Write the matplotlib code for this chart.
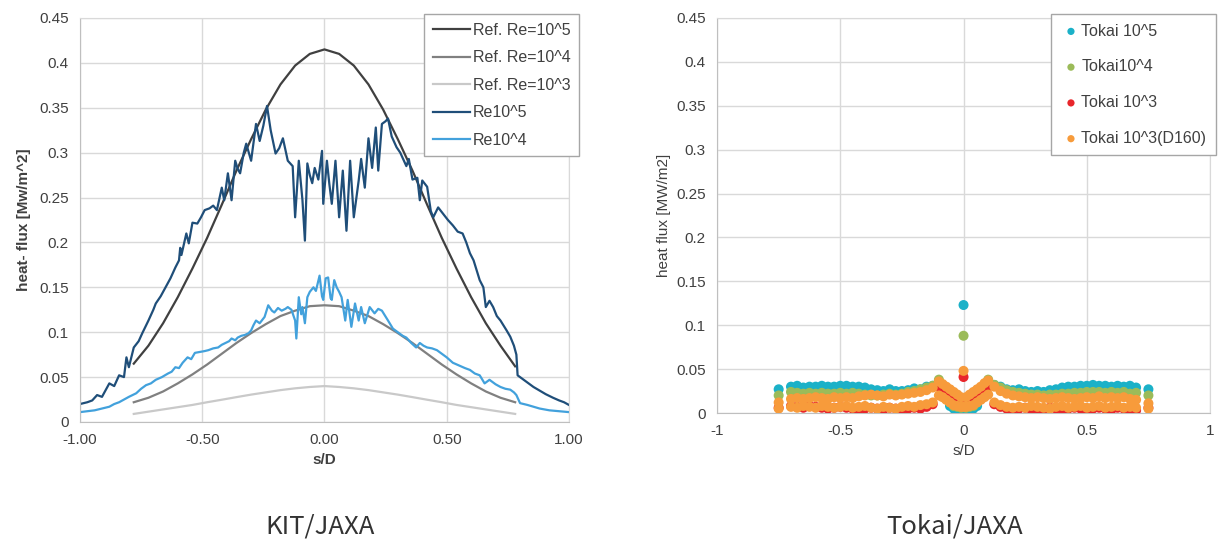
import matplotlib
matplotlib.use('Agg')
import matplotlib.pyplot as plt

plt.rcParams['font.family'] = ['Liberation Sans', 'DejaVu Sans']

# ---- KIT/JAXA data ----
ref_x = [-0.78, -0.72, -0.66, -0.60, -0.54, -0.48, -0.42, -0.36, -0.30, -0.24, -0.18, -0.12, -0.06, 0.0,
         0.06, 0.12, 0.18, 0.24, 0.30, 0.36, 0.42, 0.48, 0.54, 0.60, 0.66, 0.72, 0.78]
ref_re1e5 = [0.065, 0.085, 0.110, 0.139, 0.171, 0.205, 0.242, 0.280, 0.315, 0.348, 0.376, 0.397, 0.410, 0.415,
             0.410, 0.397, 0.376, 0.348, 0.315, 0.280, 0.242, 0.205, 0.171, 0.139, 0.110, 0.085, 0.062]
ref_re1e4 = [0.022, 0.027, 0.034, 0.043, 0.053, 0.064, 0.076, 0.088, 0.099, 0.109, 0.118, 0.124, 0.129, 0.130,
             0.129, 0.124, 0.118, 0.109, 0.099, 0.088, 0.076, 0.064, 0.053, 0.043, 0.034, 0.027, 0.022]
ref_re1e3 = [0.009, 0.0115, 0.014, 0.0165, 0.019, 0.022, 0.0248, 0.0277, 0.0305, 0.033, 0.0355, 0.0375, 0.039, 0.040,
             0.039, 0.0375, 0.0355, 0.033, 0.0305, 0.0277, 0.0248, 0.022, 0.019, 0.0165, 0.014, 0.0115, 0.009]

re5_x = [-1.00, -0.97, -0.95, -0.93, -0.91, -0.88, -0.86, -0.84, -0.82, -0.81, -0.80, -0.78, -0.76, -0.745,
         -0.72, -0.70, -0.69, -0.67, -0.65, -0.63, -0.61, -0.595, -0.59, -0.585, -0.565, -0.555, -0.54, -0.52,
         -0.505, -0.49, -0.47, -0.455, -0.44, -0.42, -0.41, -0.395, -0.38, -0.365, -0.355, -0.345, -0.33, -0.32,
         -0.30, -0.28, -0.265, -0.25, -0.235, -0.22, -0.20, -0.185, -0.17, -0.15, -0.13, -0.12, -0.105, -0.09,
         -0.08, -0.07, -0.06, -0.05, -0.04, -0.025, -0.01, -0.005, 0.01, 0.02, 0.03, 0.045, 0.06, 0.075, 0.09,
         0.105, 0.12, 0.14, 0.15, 0.165, 0.18, 0.195, 0.21, 0.22, 0.235, 0.25, 0.26, 0.275, 0.295, 0.31, 0.335,
         0.345, 0.36, 0.38, 0.39, 0.40, 0.42, 0.435, 0.445, 0.465, 0.485, 0.505, 0.525, 0.545, 0.565, 0.58,
         0.595, 0.61, 0.635, 0.65, 0.66, 0.675, 0.69, 0.705, 0.72, 0.745, 0.76, 0.775, 0.785, 0.79, 0.80, 0.825,
         0.855, 0.88, 0.905, 0.935, 0.96, 0.98, 1.00]
re5_y = [0.020, 0.022, 0.024, 0.030, 0.028, 0.043, 0.040, 0.052, 0.050, 0.072, 0.061, 0.083, 0.090, 0.099,
         0.113, 0.125, 0.132, 0.140, 0.150, 0.160, 0.172, 0.180, 0.194, 0.186, 0.210, 0.199, 0.222, 0.221,
         0.228, 0.236, 0.238, 0.241, 0.236, 0.261, 0.247, 0.277, 0.247, 0.291, 0.282, 0.277, 0.300, 0.310,
         0.291, 0.332, 0.313, 0.330, 0.352, 0.325, 0.299, 0.305, 0.316, 0.291, 0.285, 0.228, 0.291, 0.247,
         0.202, 0.288, 0.275, 0.266, 0.283, 0.270, 0.302, 0.243, 0.291, 0.265, 0.243, 0.291, 0.228, 0.280, 0.213,
         0.291, 0.228, 0.269, 0.293, 0.261, 0.316, 0.283, 0.328, 0.280, 0.332, 0.335, 0.338, 0.318, 0.306, 0.300, 0.285,
         0.293, 0.270, 0.272, 0.247, 0.269, 0.262, 0.235, 0.228, 0.239, 0.232, 0.225, 0.219, 0.212, 0.210, 0.200,
         0.188, 0.180, 0.158, 0.150, 0.128, 0.135, 0.128, 0.118, 0.113, 0.102, 0.095, 0.085, 0.075, 0.052, 0.050, 0.045,
         0.039, 0.035, 0.031, 0.027, 0.024, 0.022, 0.019]

re4_x = [-1.00, -0.97, -0.94, -0.91, -0.88, -0.86, -0.84, -0.82, -0.80, -0.785, -0.77, -0.75, -0.73, -0.71,
         -0.69, -0.665, -0.64, -0.625, -0.61, -0.595, -0.58, -0.56, -0.545, -0.53, -0.51, -0.49, -0.475, -0.455,
         -0.435, -0.42, -0.405, -0.39, -0.38, -0.365, -0.355, -0.34, -0.325, -0.31, -0.30, -0.29, -0.28, -0.265,
         -0.245, -0.23, -0.215, -0.205, -0.19, -0.175, -0.16, -0.15, -0.135, -0.12, -0.115, -0.105, -0.095, -0.09,
         -0.08, -0.07, -0.06, -0.045, -0.035, -0.02, -0.01, -0.005, 0.005, 0.015, 0.025, 0.03, 0.04, 0.05, 0.06,
         0.07, 0.085, 0.095, 0.11, 0.125, 0.14, 0.15, 0.165, 0.185, 0.205, 0.22, 0.235, 0.26, 0.28, 0.30, 0.32,
         0.335, 0.355, 0.375, 0.39, 0.405, 0.42, 0.44, 0.46, 0.48, 0.50, 0.525, 0.55, 0.575, 0.595, 0.615, 0.635,
         0.655, 0.675, 0.70, 0.72, 0.74, 0.76, 0.775, 0.785, 0.80, 0.83, 0.855, 0.88, 0.92, 0.96, 1.00]
re4_y = [0.011, 0.012, 0.013, 0.015, 0.017, 0.020, 0.022, 0.025, 0.028, 0.030, 0.032, 0.037, 0.041, 0.043,
         0.047, 0.050, 0.054, 0.056, 0.061, 0.060, 0.066, 0.072, 0.070, 0.077, 0.078, 0.079, 0.080, 0.082,
         0.083, 0.086, 0.088, 0.090, 0.093, 0.091, 0.094, 0.096, 0.097, 0.099, 0.102, 0.108, 0.113, 0.110,
         0.117, 0.130, 0.124, 0.122, 0.127, 0.124, 0.126, 0.128, 0.125, 0.113, 0.093, 0.139, 0.120, 0.128,
         0.110, 0.139, 0.145, 0.150, 0.146, 0.163, 0.140, 0.136, 0.160, 0.161, 0.138, 0.136, 0.158, 0.150, 0.145,
         0.139, 0.113, 0.136, 0.106, 0.132, 0.113, 0.128, 0.110, 0.128, 0.121, 0.126, 0.124, 0.113, 0.104, 0.100, 0.096,
         0.094, 0.088, 0.083, 0.088, 0.085, 0.083, 0.082, 0.080, 0.076, 0.072, 0.066, 0.063, 0.060, 0.058, 0.054, 0.052,
         0.043, 0.047, 0.042, 0.039, 0.037, 0.036, 0.033, 0.030, 0.021, 0.019, 0.017, 0.015, 0.013, 0.012, 0.011]

# ---- Tokai/JAXA data ----
tokai_x = [-0.75, -0.70, -0.675, -0.65, -0.625, -0.60, -0.575, -0.55, -0.525, -0.50, -0.475, -0.45, -0.425,
           -0.40, -0.375, -0.35, -0.325, -0.30, -0.275, -0.25, -0.225, -0.20, -0.175, -0.15, -0.125, -0.10,
           -0.085, -0.07, -0.055, -0.04, -0.025, -0.01, 0.0, 0.01, 0.025, 0.04, 0.055, 0.07, 0.085, 0.10,
           0.125, 0.15, 0.175, 0.20, 0.225, 0.25, 0.275, 0.30, 0.325, 0.35, 0.375, 0.40, 0.425, 0.45, 0.475,
           0.50, 0.525, 0.55, 0.575, 0.60, 0.625, 0.65, 0.675, 0.70, 0.75]
tokai_1e5 = [0.027, 0.030, 0.031, 0.029, 0.030, 0.030, 0.031, 0.030, 0.030, 0.031, 0.031, 0.030, 0.030,
             0.029, 0.027, 0.026, 0.025, 0.027, 0.025, 0.025, 0.026, 0.028, 0.027, 0.030, 0.031, 0.034,
             0.026, 0.016, 0.008, 0.005, 0.004, 0.003, 0.123, 0.003, 0.004, 0.005, 0.008, 0.016, 0.027, 0.034,
             0.032, 0.030, 0.027, 0.026, 0.027, 0.025, 0.024, 0.025, 0.024, 0.026, 0.027, 0.029, 0.030, 0.030, 0.031,
             0.031, 0.032, 0.031, 0.031, 0.030, 0.031, 0.030, 0.031, 0.029, 0.027]
tokai_1e4 = [0.020, 0.024, 0.023, 0.022, 0.023, 0.022, 0.023, 0.022, 0.022, 0.023, 0.022, 0.023, 0.022,
             0.021, 0.020, 0.020, 0.021, 0.022, 0.021, 0.022, 0.024, 0.025, 0.027, 0.029, 0.031, 0.038,
             0.030, 0.020, 0.012, 0.008, 0.007, 0.006, 0.088, 0.006, 0.007, 0.008, 0.012, 0.021, 0.031, 0.038,
             0.032, 0.029, 0.026, 0.024, 0.023, 0.022, 0.021, 0.021, 0.020, 0.021, 0.021, 0.022, 0.022, 0.023, 0.023,
             0.024, 0.024, 0.024, 0.023, 0.024, 0.023, 0.024, 0.022, 0.023, 0.020]
tokai_1e3 = [0.006, 0.008, 0.007, 0.006, 0.008, 0.007, 0.006, 0.005, 0.006, 0.007, 0.006, 0.005, 0.004,
             0.005, 0.006, 0.005, 0.004, 0.006, 0.005, 0.004, 0.005, 0.006, 0.005, 0.007, 0.010, 0.030,
             0.028, 0.024, 0.020, 0.016, 0.012, 0.009, 0.041, 0.009, 0.012, 0.016, 0.020, 0.024, 0.028, 0.030,
             0.010, 0.007, 0.005, 0.004, 0.005, 0.006, 0.004, 0.005, 0.004, 0.006, 0.005, 0.004, 0.005, 0.006, 0.005,
             0.004, 0.005, 0.006, 0.005, 0.004, 0.006, 0.005, 0.004, 0.003, 0.006]
tokai_1e3_d160_hi = [0.012, 0.016, 0.017, 0.016, 0.017, 0.018, 0.017, 0.016, 0.018, 0.017, 0.018, 0.017, 0.019,
                     0.020, 0.021, 0.020, 0.019, 0.021, 0.020, 0.021, 0.022, 0.023, 0.024, 0.026, 0.029, 0.036,
                     0.033, 0.030, 0.027, 0.024, 0.021, 0.018, 0.048, 0.018, 0.021, 0.024, 0.027, 0.030, 0.034, 0.037,
                     0.030, 0.025, 0.022, 0.020, 0.019, 0.018, 0.017, 0.018, 0.017, 0.016, 0.017, 0.018, 0.017, 0.016, 0.017,
                     0.018, 0.017, 0.019, 0.017, 0.018, 0.017, 0.018, 0.016, 0.015, 0.011]
tokai_1e3_d160_lo = [0.005, 0.007, 0.006, 0.008, 0.007, 0.006, 0.008, 0.007, 0.006, 0.007, 0.008, 0.006, 0.007,
                     0.008, 0.006, 0.005, 0.007, 0.006, 0.005, 0.007, 0.008, 0.007, 0.009, 0.010, 0.012, 0.020,
                     0.018, 0.015, 0.012, 0.009, 0.008, 0.007, 0.007, 0.007, 0.008, 0.009, 0.012, 0.015, 0.018, 0.021,
                     0.012, 0.009, 0.007, 0.006, 0.007, 0.006, 0.008, 0.007, 0.006, 0.005, 0.007, 0.008, 0.006, 0.007, 0.008,
                     0.006, 0.007, 0.008, 0.006, 0.007, 0.008, 0.006, 0.007, 0.006, 0.005]

grid_c = '#d9d9d9'
axis_c = '#bfbfbf'
text_c = '#404040'

fig = plt.figure(figsize=(12.23, 5.45), dpi=100)
fig.patch.set_facecolor('white')

def style_axes(ax):
    ax.grid(True, color=grid_c, linewidth=1.0)
    ax.set_axisbelow(True)
    for side in ['top', 'right']:
        ax.spines[side].set_color(grid_c)
    for side in ['left', 'bottom']:
        ax.spines[side].set_color(axis_c)
    ax.tick_params(length=0, labelsize=11, colors=text_c, pad=8)
    ax.set_ylim(0, 0.45)
    ax.set_xlim(-1, 1)
    ax.set_yticks([0, 0.05, 0.1, 0.15, 0.2, 0.25, 0.3, 0.35, 0.4, 0.45])
    ax.set_yticklabels(['0', '0.05', '0.1', '0.15', '0.2', '0.25', '0.3', '0.35', '0.4', '0.45'])

# Left chart
ax1 = fig.add_axes([0.0654, 0.2257, 0.3998, 0.7413])
style_axes(ax1)
ax1.plot(ref_x, ref_re1e5, color='#404040', lw=1.6, label='Ref. Re=10^5')
ax1.plot(ref_x, ref_re1e4, color='#808080', lw=1.6, label='Ref. Re=10^4')
ax1.plot(ref_x, ref_re1e3, color='#c9c9c9', lw=1.6, label='Ref. Re=10^3')
ax1.plot(re5_x, re5_y, color='#1f4e79', lw=1.6, label='Re10^5')
ax1.plot(re4_x, re4_y, color='#42a1dc', lw=1.6, label='Re10^4')
ax1.set_xticks([-1, -0.5, 0, 0.5, 1])
ax1.set_xticklabels(['-1.00', '-0.50', '0.00', '0.50', '1.00'])
ax1.set_xlabel('s/D', fontsize=11, fontweight='bold', color=text_c, labelpad=4)
ax1.set_ylabel('heat- flux [Mw/m^2]', fontsize=11, fontweight='bold', color=text_c, labelpad=6)
leg1 = ax1.legend(loc='upper left', bbox_to_anchor=(424 / 1223, 1 - 14 / 545),
                  bbox_transform=fig.transFigure, borderaxespad=0, fontsize=11.5, frameon=True,
                  fancybox=False, edgecolor='#a6a6a6', framealpha=1, handlelength=2.3,
                  handletextpad=0.2, labelspacing=0.78, borderpad=0.55)
leg1.get_frame().set_linewidth(1.0)
for t in leg1.get_texts():
    t.set_color(text_c)

# Right chart
ms = 52
ax2 = fig.add_axes([0.5863, 0.2422, 0.4031, 0.7248])
style_axes(ax2)
ax2.scatter(tokai_x, tokai_1e5, s=ms, color='#1bb1c8', edgecolors='none', label='Tokai 10^5', zorder=3)
ax2.scatter(tokai_x, tokai_1e4, s=ms, color='#9bbb59', edgecolors='none', label='Tokai10^4', zorder=3)
ax2.scatter(tokai_x, tokai_1e3, s=ms, color='#e8262b', edgecolors='none', label='Tokai 10^3', zorder=3)
ax2.scatter(tokai_x, tokai_1e3_d160_hi, s=ms, color='#f79b3b', edgecolors='none',
            label='Tokai 10^3(D160)', zorder=3)
ax2.scatter(tokai_x, tokai_1e3_d160_lo, s=ms, color='#f79b3b', edgecolors='none', zorder=3)
ax2.set_xticks([-1, -0.5, 0, 0.5, 1])
ax2.set_xticklabels(['-1', '-0.5', '0', '0.5', '1'])
ax2.set_xlabel('s/D', fontsize=11, color=text_c, labelpad=4)
ax2.set_ylabel('heat flux [MW/m2]', fontsize=11, color=text_c, labelpad=4)
leg2 = ax2.legend(loc='upper left', bbox_to_anchor=(1051 / 1223, 1 - 14 / 545),
                  bbox_transform=fig.transFigure, borderaxespad=0, fontsize=11.5, frameon=True,
                  fancybox=False, edgecolor='#a6a6a6', framealpha=1, handletextpad=0.0,
                  markerscale=0.72, labelspacing=1.3, borderpad=0.6, handlelength=1.3)
leg2.get_frame().set_linewidth(1.0)
for t in leg2.get_texts():
    t.set_color(text_c)

# Captions
fig.text(320 / 1223, 1 - 527 / 545, 'KIT/JAXA', ha='center', va='center', fontsize=18.5,
         color='#333333', family=['Noto Sans CJK JP', 'DejaVu Sans'])
fig.text(955 / 1223, 1 - 527 / 545, 'Tokai/JAXA', ha='center', va='center', fontsize=18.5,
         color='#333333', family=['Noto Sans CJK JP', 'DejaVu Sans'])

fig.savefig('out.png', dpi=100)
